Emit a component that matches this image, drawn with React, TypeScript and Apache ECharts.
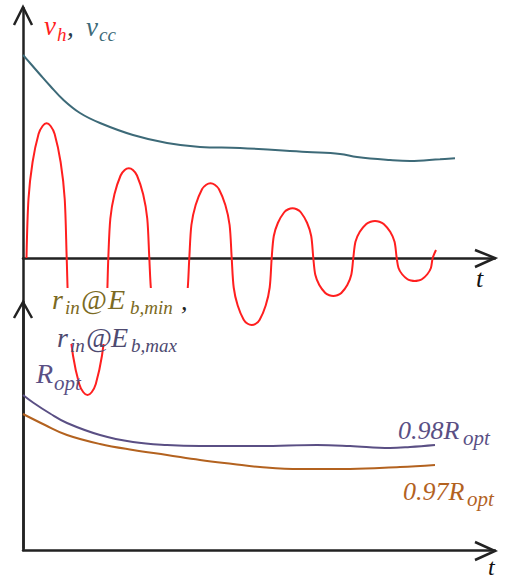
import React, { useEffect, useRef } from "react";
import * as echarts from "echarts";

// ---- data (t: arbitrary time units, v: arbitrary amplitude units) ----
// v_h : decaying oscillation (rounded lobes)
const vhT = [
  0.7, 1.1, 1.91, 3.11, 3.92, 4.72, 5.52, 6.33, 7.53, 8.34,
  8.74, 9.16, 9.99, 11.24, 12.07, 12.9, 13.73, 14.56, 15.81, 16.64,
  17.06, 17.47, 18.29, 19.52, 20.34, 21.16, 21.98, 22.8, 24.03, 24.85,
  25.26, 25.66, 26.46, 27.66, 28.46, 29.26, 30.06, 30.86, 32.06, 32.86,
  33.26, 33.68, 34.53, 35.8, 36.65, 37.5, 38.35, 39.2, 40.47, 41.32,
  41.74, 42.14, 42.94, 44.14, 44.94, 45.74, 46.54, 47.34, 48.54, 49.34,
  49.74, 50.16, 50.99, 52.24, 53.07, 53.9, 54.73, 55.56, 56.81, 57.64,
  58.06, 58.46, 59.26, 60.46, 61.26, 62.06, 62.86, 63.66, 64.86, 65.66,
  66.06, 66.49, 67.36, 68.66, 69.53, 70.4, 71.27, 72.14, 73.44, 74.31,
  74.74, 75.1, 75.82, 76.9, 77.62, 78.34, 79.06, 79.78, 80.86, 81.58,
  81.94, 82.6,
];
const vhV = [
  0, 23.7, 38.3, 49.6, 52.8, 53.9, 52.8, 49.6, 38.3, 23.7,
  0, -24.1, -38.9, -50.4, -53.7, -54.8, -53.7, -50.4, -38.9, -24.1,
  0, 15.8, 25.5, 33.0, 35.2, 35.9, 35.2, 33.0, 25.5, 15.8,
  0, -14.1, -22.7, -29.4, -31.4, -32, -31.4, -29.4, -22.7, -14.1,
  0, 13.2, 21.2, 27.5, 29.3, 29.9, 29.3, 27.5, 21.2, 13.2,
  0, -11.8, -19.0, -24.7, -26.3, -26.8, -26.3, -24.7, -19.0, -11.8,
  0, 8.8, 14.1, 18.3, 19.5, 19.9, 19.5, 18.3, 14.1, 8.8,
  0, -6.7, -10.8, -14.0, -14.9, -15.2, -14.9, -14.0, -10.8, -6.7,
  0, 6.5, 10.5, 13.6, 14.5, 14.8, 14.5, 13.6, 10.5, 6.5,
  0, -4.0, -6.5, -8.5, -9.0, -9.2, -9.0, -8.5, -6.5, -4.0,
  0, 3.2,
];

// v_cc : supply voltage envelope
const vccT = [0, 1.4, 3.4, 5.4, 8, 11.4, 15.4, 22, 28.8, 35.4, 43.4, 56.8, 63.4, 66.8, 73.4, 77.4, 83.4, 86.4];
const vccV = [81.2, 78, 73.4, 68.9, 63.4, 58, 54, 49.2, 46, 44.4, 44, 42.4, 41.6, 40.4, 39.2, 38.8, 39.5, 39.9];

// 0.98 R_opt
const r98T = [0, 2, 5.4, 8.8, 15.4, 22, 28.8, 35.4, 47.4, 58.8, 65.4, 73.4, 77.4, 82.4];
const r98V = [62, 59, 54.6, 50.8, 46, 43.2, 42, 41.6, 41.6, 42, 41.6, 40.8, 41.2, 42];

// 0.97 R_opt
const r97T = [0, 4.4, 8.8, 15.4, 22, 28.8, 35.4, 42, 47.4, 55.4, 65.4, 75.4, 82.4];
const r97V = [54.4, 50, 46, 42.4, 40, 38, 36, 34.4, 33.2, 32.4, 32.4, 33.2, 34];

const zip = (t: number[], v: number[]) => t.map((x, i) => [x, v[i]]);

const RED = "#ff1f1f";
const TEAL = "#3d6a78";
const PURPLE = "#5a4f84";
const BROWN = "#b3621f";
const OLIVE = "#7b6a22";
const SLATE = "#4e4a70";
const AXIS = "#222222";
const SERIF = "Liberation Serif";

// a text label placed by its baseline, drawn as an ECharts title
function ttl(text: string, x: number, baseline: number, fs: number, color: string) {
  return {
    text,
    left: x,
    top: baseline - 0.84 * fs,
    padding: 0,
    itemGap: 0,
    z: 20,
    textStyle: {
      fontFamily: SERIF,
      fontStyle: "italic",
      fontWeight: "normal",
      fontSize: fs,
      lineHeight: fs,
      color,
    },
  };
}

function chevron(points: number[][]) {
  return {
    type: "polyline",
    z: 20,
    shape: { points },
    style: { stroke: AXIS, lineWidth: 2.5, fill: null, lineJoin: "miter" },
  };
}

export default function App() {
  const ref = useRef<HTMLDivElement>(null);
  useEffect(() => {
    if (!ref.current) return;
    const chart = echarts.init(ref.current, null, { renderer: "svg" });
    const axisCommon = {
      type: "value",
      axisTick: { show: false },
      axisLabel: { show: false },
      splitLine: { show: false },
      axisLine: { show: true, lineStyle: { color: AXIS, width: 2.5 } },
    };
    chart.setOption({
      animation: false,
      backgroundColor: "#ffffff",
      textStyle: { fontFamily: SERIF },
      title: [
        ttl("t", 476, 287, 26, "#111111"),
        ttl("t", 488, 575, 24, "#111111"),
        ttl("v", 44, 35, 27, RED),
        ttl("h", 57, 41, 19, RED),
        ttl(",", 67, 36, 27, "#2b3a48"),
        ttl("v", 86, 36, 27, TEAL),
        ttl("cc", 99, 41, 19, TEAL),
        ttl("r", 52, 309, 28, OLIVE),
        ttl("in", 65, 314, 19, OLIVE),
        ttl("@", 81, 309, 28, OLIVE),
        ttl("E", 108, 309, 28, OLIVE),
        ttl("b,min", 130, 314, 19, OLIVE),
        ttl(",", 181, 310, 26, "#222222"),
        ttl("r", 57, 347, 28, SLATE),
        ttl("in", 70, 352, 19, SLATE),
        ttl("@", 86, 347, 28, SLATE),
        ttl("E", 111, 347, 28, SLATE),
        ttl("b,max", 131, 352, 19, SLATE),
        ttl("R", 36, 383, 28, PURPLE),
        ttl("opt", 54, 390, 21, PURPLE),
        ttl("0.98R", 398, 439, 26, PURPLE),
        ttl("opt", 463, 445, 21, PURPLE),
        ttl("0.97R", 403, 500, 26, BROWN),
        ttl("opt", 467, 506, 21, BROWN),
      ],
      grid: [
        { left: 23, right: 18, top: 8, bottom: 32 },
        { left: 23, right: 18, top: 302, bottom: 30 },
      ],
      xAxis: [
        { ...axisCommon, gridIndex: 0, min: 0, max: 94.4, axisLine: { ...axisCommon.axisLine, onZero: true } },
        { ...axisCommon, gridIndex: 1, min: 0, max: 94.4 },
      ],
      yAxis: [
        { ...axisCommon, gridIndex: 0, min: -116, max: 100 },
        { ...axisCommon, gridIndex: 1, min: 0, max: 99.2 },
      ],
      series: [
        {
          type: "line", xAxisIndex: 0, yAxisIndex: 0, data: zip(vccT, vccV),
          symbol: "none", smooth: 0.4, lineStyle: { color: TEAL, width: 2 },
        },
        {
          type: "line", xAxisIndex: 0, yAxisIndex: 0, data: zip(vhT, vhV),
          symbol: "none", smooth: 0.3, lineStyle: { color: RED, width: 2 },
        },
        {
          type: "line", xAxisIndex: 1, yAxisIndex: 1, data: zip(r98T, r98V),
          symbol: "none", smooth: 0.4, lineStyle: { color: PURPLE, width: 2 },
        },
        {
          type: "line", xAxisIndex: 1, yAxisIndex: 1, data: zip(r97T, r97V),
          symbol: "none", smooth: 0.4, lineStyle: { color: BROWN, width: 2 },
        },
      ],
      graphic: [
        // white label backing that hides part of the waveform
        { type: "rect", z: 10, shape: { x: 50, y: 288, width: 141, height: 56 }, style: { fill: "#ffffff" } },
        // arrow heads
        chevron([[14, 25], [23, 7], [32, 25]]),
        chevron([[14, 318], [23, 302], [32, 318]]),
        chevron([[475, 250], [495, 258], [475, 267]]),
        chevron([[475, 542], [495, 551], [475, 560]]),
      ],
    });
    return () => chart.dispose();
  }, []);
  return (
    <div
      ref={ref}
      style={{ position: "fixed", left: 0, top: 0, width: 513, height: 580, background: "#fff" }}
    />
  );
}
